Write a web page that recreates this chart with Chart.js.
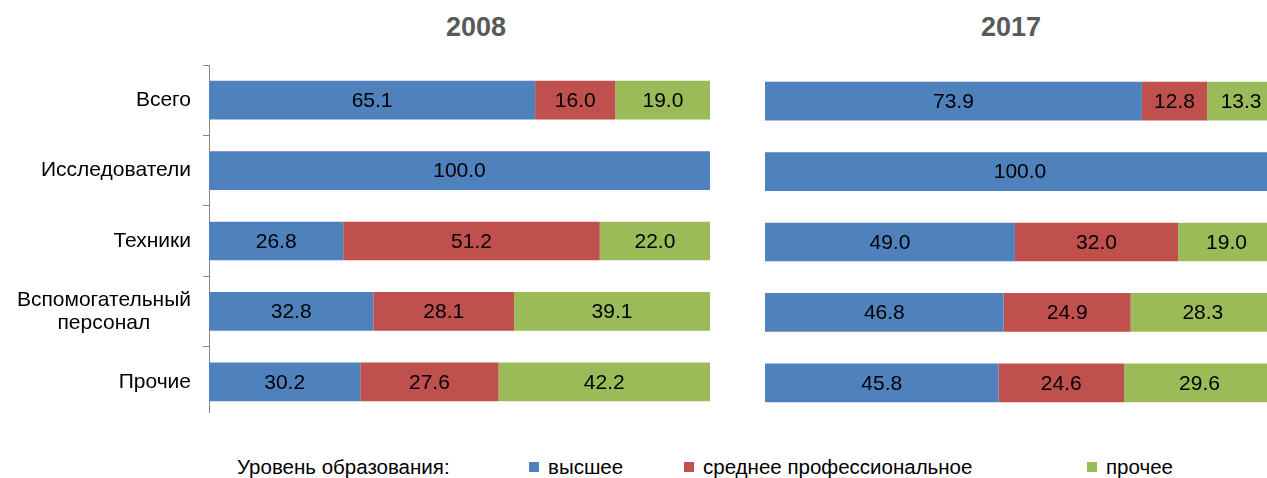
<!DOCTYPE html>
<html>
<head>
<meta charset="utf-8">
<script src="https://cdn.jsdelivr.net/npm/chart.js@4.4.1/dist/chart.umd.min.js"></script>
<style>
html,body{margin:0;padding:0;background:#fff;}
body{width:1267px;height:478px;overflow:hidden;position:relative;font-family:"Liberation Sans",Arial,sans-serif;}
.clip{position:absolute;overflow:hidden;}
.box{position:absolute;left:0;top:0;}
.title{position:absolute;top:11px;font-weight:bold;font-size:27px;line-height:32px;color:#595959;transform:translateX(-50%);white-space:nowrap;}
.leg{position:absolute;top:455px;font-size:20.5px;line-height:24px;color:#000;white-space:nowrap;}
.sq{position:absolute;top:462px;width:10px;height:10px;}
</style>
</head>
<body>
<div class="title" id="t0" style="left:476px;"></div>
<div class="title" id="t1" style="left:1011px;"></div>
<div class="clip" style="left:0;top:64px;width:711px;height:349px;">
  <div class="box" style="width:711px;height:354px;"><canvas id="c0"></canvas></div>
</div>
<div class="clip" style="left:765px;top:65px;width:510px;height:354px;">
  <div class="box" style="width:510px;height:354px;"><canvas id="c1"></canvas></div>
</div>
<div id="legend"></div>
<script>
// ---- data ----
const categories = ['Всего', 'Исследователи', 'Техники', ['Вспомогательный', 'персонал'], 'Прочие'];
const years = ['2008', '2017'];
const seriesNames = ['высшее', 'среднее профессиональное', 'прочее'];
const legendTitle = 'Уровень образования:';
const higher2008 = [65.1, 100.0, 26.8, 32.8, 30.2];
const secondary2008 = [16.0, null, 51.2, 28.1, 27.6];
const other2008 = [19.0, null, 22.0, 39.1, 42.2];
const higher2017 = [73.9, 100.0, 49.0, 46.8, 45.8];
const secondary2017 = [12.8, null, 32.0, 24.9, 24.6];
const other2017 = [13.3, null, 19.0, 28.3, 29.6];

const colors = ['#4F81BD', '#C0504D', '#9BBB59'];
const FONT = '"Liberation Sans", Arial, sans-serif';
const LABEL_SIZE = 21;

// centre the second line of multi-line category labels under the first (right-aligned block)
function centreLines(lbl) {
  if (!Array.isArray(lbl)) return lbl;
  const c = document.createElement('canvas').getContext('2d');
  c.font = LABEL_SIZE + 'px ' + FONT;
  const w0 = c.measureText(lbl[0]).width;
  const sp = c.measureText(' ').width;
  return lbl.map(l => {
    const n = Math.max(0, Math.round((w0 - c.measureText(l).width) / 2 / sp));
    return l + ' '.repeat(n);
  });
}

const valueLabels = {
  id: 'valueLabels',
  afterDatasetsDraw(chart) {
    const ctx = chart.ctx;
    ctx.save();
    ctx.font = LABEL_SIZE + 'px ' + FONT;
    ctx.fillStyle = '#000';
    ctx.textAlign = 'center';
    ctx.textBaseline = 'middle';
    chart.data.datasets.forEach((ds, i) => {
      const meta = chart.getDatasetMeta(i);
      meta.data.forEach((bar, j) => {
        const v = ds.data[j];
        if (v == null) return;
        const p = bar.getProps(['x', 'base', 'y'], true);
        ctx.fillText(v.toFixed(1), (p.x + p.base) / 2, p.y + 1);
      });
    });
    ctx.restore();
  }
};

function makeChart(id, series, showAxis) {
  const datasets = series.map((d, i) => ({
    label: seriesNames[i],
    data: d,
    backgroundColor: colors[i],
    borderWidth: 0,
    barPercentage: 0.55,
    categoryPercentage: 1.0
  }));
  return new Chart(document.getElementById(id), {
    type: 'bar',
    data: { labels: categories.map(centreLines), datasets },
    options: {
      indexAxis: 'y',
      responsive: true,
      maintainAspectRatio: false,
      animation: false,
      layout: { padding: { top: 1, bottom: 1, left: 0, right: showAxis ? 1 : 0 } },
      plugins: { legend: { display: false }, tooltip: { enabled: false }, title: { display: false } },
      scales: {
        x: { stacked: true, min: 0, max: 100, display: false },
        y: {
          stacked: true,
          display: showAxis,
          afterFit(s) {
            if (showAxis) s.width = 209;
            s.paddingTop = 0; s.paddingBottom = 0;
          },
          border: { display: true, color: '#868686', width: 1 },
          grid: {
            display: true, drawOnChartArea: false, drawTicks: true, tickLength: 6, offset: true,
            color: '#868686',
            tickColor: ctx => ctx.type === 'tick' ? '#868686' : 'rgba(0,0,0,0)'
          },
          ticks: { font: { size: LABEL_SIZE, family: FONT, lineHeight: 1.1 }, color: '#000', padding: 12 }
        }
      }
    },
    plugins: [valueLabels]
  });
}

document.getElementById('t0').textContent = years[0];
document.getElementById('t1').textContent = years[1];
makeChart('c0', [higher2008, secondary2008, other2008], true);
makeChart('c1', [higher2017, secondary2017, other2017], false);

// legend
const legPos = [{ sq: 529, tx: 548 }, { sq: 684, tx: 703 }, { sq: 1087, tx: 1106 }];
const lg = document.getElementById('legend');
let html = '<div class="leg" style="left:237px;">' + legendTitle + '</div>';
seriesNames.forEach((n, i) => {
  html += '<div class="sq" style="left:' + legPos[i].sq + 'px;background:' + colors[i] + ';"></div>';
  html += '<div class="leg" style="left:' + legPos[i].tx + 'px;">' + n + '</div>';
});
lg.innerHTML = html;
</script>
</body>
</html>
